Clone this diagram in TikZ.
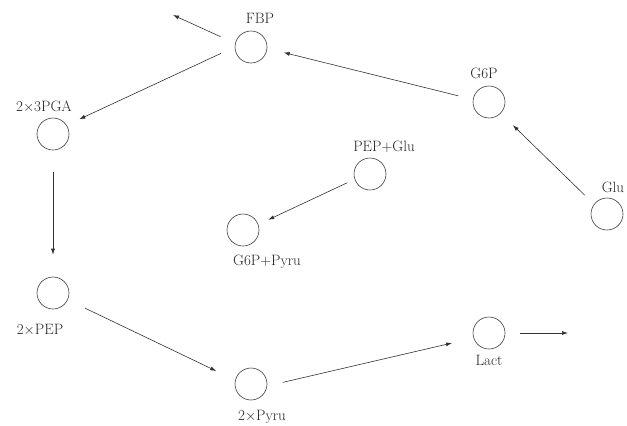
\documentclass[tikz,border=0pt]{standalone}
\usetikzlibrary{arrows.meta}
\begin{document}
\begin{tikzpicture}[x=1pt,y=-1pt,
  state/.style={circle,draw=black!75,line width=0.6pt,minimum size=32pt,inner sep=0pt},
  lbl/.style={anchor=base,inner sep=0pt,text=black!85,font=\fontsize{15}{18}\selectfont},
  arr/.style={draw=black!80,line width=0.6pt,-{Latex[length=6pt,width=4pt]}}]
\useasboundingbox[fill=white] (0,0) rectangle (627,426);
% circles
\node[state] (fbp) at (251,47) {};
\node[state] (g6p) at (489,102) {};
\node[state] (glu) at (607,214) {};
\node[state] (pga) at (53,134) {};
\node[state] (pep) at (53,293) {};
\node[state] (pyru) at (251,384) {};
\node[state] (lact) at (489,333) {};
\node[state] (pepglu) at (370,174) {};
\node[state] (g6ppyru) at (243,230) {};
% labels
\node[lbl] (fbpL) at (260,23) {FBP};
\node[lbl] (g6pL) at (484,78) {G6P};
\node[lbl] (gluL) at (613,192) {Glu};
\node[lbl] (pgaL) at (44,111) {2$\times$3PGA};
\node[lbl] (pepL) at (40,334) {2$\times$PEP};
\node[lbl] (pyruL) at (262,420) {2$\times$Pyru};
\node[lbl] (lactL) at (489,365) {Lact};
\node[lbl] (pepgluL) at (384,151) {PEP+Glu};
\node[lbl] (g6ppyruL) at (267,265) {G6P+Pyru};
% free ends
\coordinate (fbpout) at (173,15);
\coordinate (lactout) at (568,333);
% connectors
\draw[arr,shorten <=16pt] (fbp.167) -- (fbpout);
\draw[arr,shorten <=15pt,shorten >=14pt] (fbp.180) -- (pga.33);
\draw[arr,shorten <=15pt,shorten >=17pt] (g6p.171) -- (fbp.-5);
\draw[arr,shorten <=13pt,shorten >=17pt] (glu.143) -- (g6p.-44);
\draw[arr,shorten <=22pt,shorten >=22pt] (pga.-90) -- (pep.90);
\draw[arr,shorten <=19pt,shorten >=21pt] (pep.-25) -- (pyru.166);
\draw[arr,shorten <=16pt,shorten >=22pt] (pyru.-7) -- (lact.198);
\draw[arr,shorten <=15pt] (lact.0) -- (lactout);
\draw[arr,shorten <=8pt,shorten >=11pt] (pepglu.-161) -- (g6ppyru.20);
\end{tikzpicture}
\end{document}
